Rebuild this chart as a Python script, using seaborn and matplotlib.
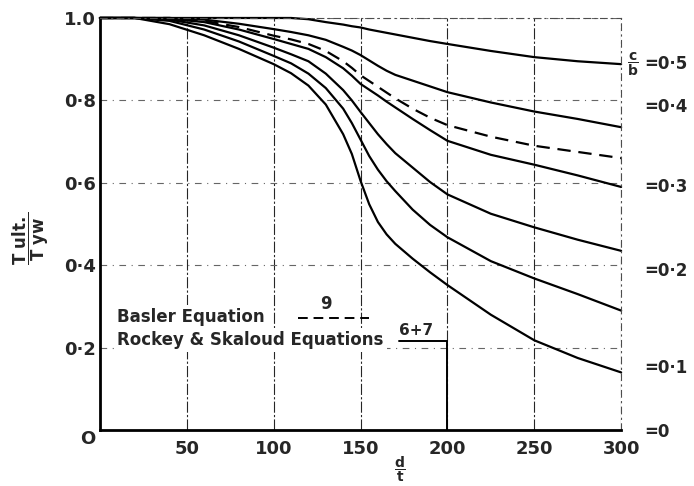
import numpy as np
import pandas as pd
import seaborn as sns
import matplotlib.pyplot as plt

d_t = [0, 20, 40, 60, 80, 100, 110, 120, 130, 140, 145, 150, 155, 160, 165,
       170, 180, 190, 200, 225, 250, 275, 300]

# T ult / T yw for each c/b (Rockey & Skaloud) plus the Basler curve
cb_0 = [1.0, 1.0, 0.985, 0.958, 0.925, 0.888, 0.866, 0.836, 0.790, 0.718, 0.670,
        0.605, 0.548, 0.505, 0.475, 0.452, 0.416, 0.383, 0.352, 0.280, 0.218, 0.175, 0.140]
cb_01 = [1.0, 1.0, 0.993, 0.972, 0.943, 0.908, 0.890, 0.865, 0.830, 0.780, 0.745,
         0.705, 0.665, 0.632, 0.604, 0.580, 0.535, 0.498, 0.468, 0.410, 0.368, 0.330, 0.290]
cb_02 = [1.0, 1.0, 0.996, 0.982, 0.958, 0.928, 0.912, 0.895, 0.865, 0.825, 0.800,
         0.772, 0.745, 0.718, 0.694, 0.672, 0.637, 0.602, 0.572, 0.525, 0.492, 0.462, 0.435]
cb_03 = [1.0, 1.0, 0.998, 0.990, 0.972, 0.949, 0.937, 0.925, 0.905, 0.878, 0.860,
         0.840, 0.826, 0.812, 0.797, 0.783, 0.755, 0.728, 0.702, 0.668, 0.644, 0.618, 0.590]
cb_04 = [1.0, 1.0, 1.0, 0.996, 0.986, 0.973, 0.966, 0.958, 0.947, 0.930, 0.921,
         0.910, 0.897, 0.884, 0.872, 0.862, 0.848, 0.834, 0.820, 0.795, 0.773, 0.755, 0.735]
cb_05 = [1.0, 1.0, 1.0, 1.0, 1.0, 1.0, 1.0, 0.997, 0.990, 0.984, 0.980,
         0.977, 0.972, 0.968, 0.964, 0.960, 0.952, 0.944, 0.937, 0.920, 0.905, 0.895, 0.888]
basler = [1.0, 1.0, 1.0, 0.993, 0.978, 0.957, 0.948, 0.937, 0.920, 0.895, 0.879,
          0.861, 0.847, 0.833, 0.819, 0.805, 0.780, 0.758, 0.740, 0.712, 0.690, 0.675, 0.660]

curve_labels = ['=0·5', '=0·4', '=0·3', '=0·2', '=0·1', '=0']
curve_label_y = [0.888, 0.785, 0.59, 0.385, 0.15, -0.005]

x_ticks = [50, 100, 150, 200, 250, 300]
x_tick_labels = ['50', '100', '150', '200', '250', '300']
y_ticks = [0, 0.2, 0.4, 0.6, 0.8, 1.0]
y_tick_labels = ['O', '0·2', '0·4', '0·6', '0·8', '1.0']

# legend key positions (data units)
basler_key = (114, 155, 0.272)
rockey_key = (172, 200, 0.217)

sns.set_style('white')
plt.rcParams['font.family'] = ['DejaVu Sans']
plt.rcParams['mathtext.fontset'] = 'dejavusans'

fig = plt.figure(figsize=(6.94, 4.86), dpi=100)
ax = fig.add_axes([0.144, 0.115, 0.751, 0.848])

for vals in [cb_0, cb_01, cb_02, cb_03, cb_04, cb_05]:
    sns.lineplot(x=d_t, y=vals, ax=ax, color='black', lw=1.6, clip_on=False)
sns.lineplot(x=d_t, y=basler, ax=ax, color='black', lw=1.6,
             clip_on=False).lines[-1].set_dashes((6, 3.5))

ax.set_xlim(0, 300)
ax.set_ylim(0, 1.0)
ax.set_xticks(x_ticks)
ax.set_xticklabels(x_tick_labels)
ax.set_yticks(y_ticks)
ax.set_yticklabels(y_tick_labels)
ax.get_yticklabels()[0].set_va('top')
ax.tick_params(length=0, labelsize=13)
ax.tick_params(axis='x', pad=7)
ax.tick_params(axis='y', pad=3)
for t in ax.get_xticklabels() + ax.get_yticklabels():
    t.set_fontweight('bold')
ax.set_xlabel('')
ax.set_ylabel('')

ax.xaxis.grid(True, color='0.15', lw=0.8, ls=(0, (10, 2, 2, 2)))
ax.yaxis.grid(True, color='0.4', lw=0.8, ls=(0, (6, 5, 1, 5)))
ax.set_axisbelow(True)

for side in ['left', 'bottom']:
    ax.spines[side].set_linewidth(2.0)
    ax.spines[side].set_color('black')
for side in ['top', 'right']:
    ax.spines[side].set_linewidth(0.8)
    ax.spines[side].set_color('0.3')
    ax.spines[side].set_linestyle((0, (6, 4, 1, 4)))

# right-hand curve labels
for lab, yv in zip(curve_labels, curve_label_y):
    ax.text(1.045, yv, lab, transform=ax.get_yaxis_transform(), fontsize=12,
            fontweight='bold', va='center', ha='left')
ax.text(1.012, curve_label_y[0], r'$\dfrac{\mathbf{c}}{\mathbf{b}}$',
        transform=ax.get_yaxis_transform(), fontsize=10, va='center', ha='left')

# legend
box = dict(facecolor='white', edgecolor='none', pad=2)
ax.text(10, 0.275, 'Basler Equation', fontsize=12, fontweight='bold',
        va='center', ha='left', bbox=box)
ax.text(10, 0.218, 'Rockey & Skaloud Equations', fontsize=12, fontweight='bold',
        va='center', ha='left', bbox=box)
ax.plot(basler_key[:2], [basler_key[2]] * 2, color='black', lw=1.4, dashes=(5, 3))
ax.text(130, 0.283, '9', fontsize=12, fontweight='bold', ha='center', va='bottom')
ax.text(rockey_key[0], rockey_key[2] + 0.006, '6+7', fontsize=11, fontweight='bold',
        ha='left', va='bottom')
ax.plot([rockey_key[0], rockey_key[1], rockey_key[1]],
        [rockey_key[2], rockey_key[2], 0], color='black', lw=1.4)

# axis labels as fractions
fig.text(0.045, 0.51, r'$\dfrac{\mathbf{T\ ult.}}{\mathbf{T\ yw}}$', rotation=90,
         fontsize=12, ha='center', va='center')
fig.text(0.576, 0.035, r'$\dfrac{\mathbf{d}}{\mathbf{t}}$', fontsize=10,
         ha='center', va='center')

fig.savefig('out.png', dpi=100)
